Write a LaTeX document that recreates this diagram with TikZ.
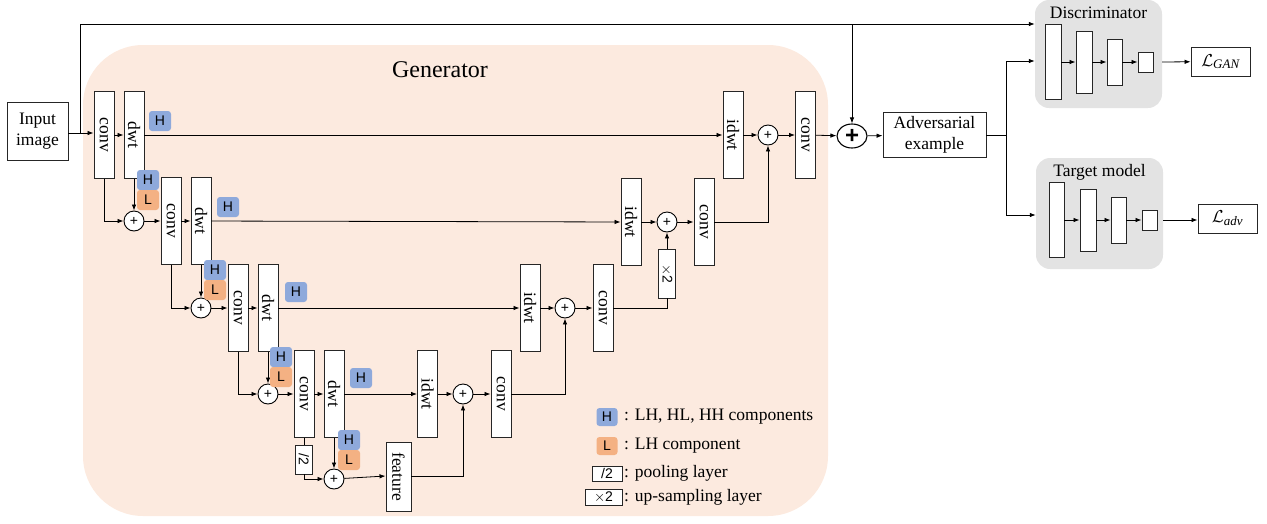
\documentclass[tikz,border=0pt]{standalone}
\usepackage{graphicx}
\usepackage{fontspec}
\setmainfont{Liberation Serif}
\newfontfamily\tagfont{Liberation Sans}
\usetikzlibrary{arrows.meta,shapes.geometric}

\definecolor{genbg}{RGB}{252,234,223}
\definecolor{hblue}{RGB}{142,169,219}
\definecolor{lorange}{RGB}{244,177,131}
\definecolor{panelgray}{RGB}{227,227,227}

\newcommand{\sidelabel}[1]{\rotatebox{-90}{#1}}
\newcommand{\losssub}[1]{\mbox{\fontsize{13}{13}\selectfont\itshape #1}}

\tikzset{
  txt/.style={font=\fontsize{17.5}{21}\selectfont},
  layer/.style={draw=black!85, fill=white, line width=0.9pt, minimum width=20pt,
    minimum height=87pt, inner sep=0pt, txt},
  plainbox/.style={draw=black!85, fill=white, line width=0.9pt, inner sep=0pt, txt, align=center},
  sum/.style={circle, draw=black, fill=white, line width=0.9pt, minimum size=20pt,
    inner sep=0pt, font=\tagfont\fontsize{14}{14}\selectfont},
  bigsum/.style={ellipse, draw=black, fill=white, line width=1.1pt, minimum width=30pt,
    minimum height=24pt, inner sep=0pt, font=\tagfont\bfseries\fontsize{24}{24}\selectfont},
  badge/.style={rounded corners=3pt, minimum width=22pt, minimum height=20pt,
    inner sep=0pt, font=\tagfont\fontsize{14}{14}\selectfont},
  hbadge/.style={badge, fill=hblue},
  lbadge/.style={badge, fill=lorange},
  smallbox/.style={draw=black!85, fill=white, line width=0.9pt, inner sep=0pt,
    font=\tagfont\fontsize{14}{14}\selectfont},
  panel/.style={fill=panelgray, rounded corners=14pt, inner sep=0pt},
  unit/.style={draw=black!85, fill=white, line width=0.9pt, inner sep=0pt},
  arr/.style={-{Latex[length=6pt,width=4.5pt]}, line width=0.8pt},
  ln/.style={line width=0.8pt},
  legendtxt/.style={anchor=west, inner sep=0pt, txt},
}

\begin{document}
\begin{tikzpicture}[x=1pt,y=-1pt]
\useasboundingbox (0,0) rectangle (1267,523);

% generator backdrop
\fill[genbg, rounded corners=60pt] (83,45) rectangle (828,516);
\node[font=\fontsize{24}{24}\selectfont] (gentitle) at (440,70) {Generator};

% input
\node[plainbox, minimum width=61pt, minimum height=58pt] (in) at (37.5,131) {Input\\image};
\coordinate (tap) at (80,133);

% encoder
\node[layer] (c1) at (104,135) {\sidelabel{conv}};
\node[layer] (d1) at (134,135) {\sidelabel{dwt}};
\node[sum] (p1) at (134,221) {+};
\node[layer] (c2) at (171,221) {\sidelabel{conv}};
\node[layer] (d2) at (201,221) {\sidelabel{dwt}};
\node[sum] (p2) at (201,308) {+};
\node[layer] (c3) at (238,308) {\sidelabel{conv}};
\node[layer] (d3) at (268,308) {\sidelabel{dwt}};
\node[sum] (p3) at (268,394) {+};
\node[layer] (c4) at (304,394) {\sidelabel{conv}};
\node[layer] (d4) at (334,394) {\sidelabel{dwt}};
\node[smallbox, minimum width=17pt, minimum height=29pt] (pool) at (304,459.5) {\sidelabel{/2}};
\node[sum] (p4) at (334,479) {+};
\node[plainbox, minimum width=25pt, minimum height=69pt] (feat) at (398.5,476.5) {\sidelabel{feature}};

% decoder
\node[layer] (i1) at (733,135) {\sidelabel{idwt}};
\node[sum] (s1) at (768,135) {+};
\node[layer] (e1) at (805.5,135) {\sidelabel{conv}};
\node[layer] (i2) at (631,222) {\sidelabel{idwt}};
\node[sum] (s2) at (667,222) {+};
\node[layer] (e2) at (704,222) {\sidelabel{conv}};
\node[smallbox, minimum width=17pt, minimum height=49pt] (up) at (667,273.5) {\sidelabel{$\times$2}};
\node[layer] (i3) at (530,308) {\sidelabel{idwt}};
\node[sum] (s3) at (565,308) {+};
\node[layer] (e3) at (603,308) {\sidelabel{conv}};
\node[layer] (i4) at (427.5,394) {\sidelabel{idwt}};
\node[sum] (s4) at (463,394) {+};
\node[layer] (e4) at (501,394) {\sidelabel{conv}};

% encoder connectors
\draw[arr] (in.east |- tap) -- (c1.west |- tap);
\draw[arr] (c1) -- (d1);
\draw[arr] (c1.south) |- (p1);
\draw[arr] (d1.south) -- (p1);
\draw[arr] (p1) -- (c2);
\draw[arr] (c2) -- (d2);
\draw[arr] (c2.south) |- (p2);
\draw[arr] (d2.south) -- (p2);
\draw[arr] (p2) -- (c3);
\draw[arr] (c3) -- (d3);
\draw[arr] (c3.south) |- (p3);
\draw[arr] (d3.south) -- (p3);
\draw[arr] (p3) -- (c4);
\draw[arr] (c4) -- (d4);
\draw[ln] (c4.south) -- (pool.north);
\draw[arr] (pool.south) |- (p4);
\draw[arr] (d4.south) -- (p4);
\draw[arr] (p4) -- (feat.west |- 0,476);

% skip connections
\draw[arr] (d1) -- (i1);
\draw[arr] (d2) -- (i2);
\draw[arr] (d3) -- (i3);
\draw[arr] (d4) -- (i4);

% decoder connectors
\draw[arr] (feat.east) -| (s4);
\draw[arr] (i4) -- (s4);
\draw[arr] (s4) -- (e4);
\draw[arr] (e4.east) -| (s3);
\draw[arr] (i3) -- (s3);
\draw[arr] (s3) -- (e3);
\draw[ln] (e3.east) -| (up.south);
\draw[arr] (up) -- (s2);
\draw[arr] (i2) -- (s2);
\draw[arr] (s2) -- (e2);
\draw[arr] (e2.east) -| (s1);
\draw[arr] (i1) -- (s1);
\draw[arr] (s1) -- (e1);

% wavelet component tags
\node[hbadge] (h1) at (160,121) {H};
\node[hbadge] (h2) at (228,207) {H};
\node[hbadge] (h3) at (296,292) {H};
\node[hbadge] (h4) at (361,378) {H};
\node[hbadge] (hh1) at (148,180) {H};
\node[lbadge] (ll1) at (148,200) {L};
\node[hbadge] (hh2) at (215,270) {H};
\node[lbadge] (ll2) at (215,290) {L};
\node[hbadge] (hh3) at (281,357) {H};
\node[lbadge] (ll3) at (281,377) {L};
\node[hbadge] (hh4) at (349,440) {H};
\node[lbadge] (ll4) at (349,460) {L};

% legend
\node[hbadge, minimum width=21pt, minimum height=18pt] (kh) at (607,417) {H};
\node[legendtxt] (khtxt) at (624,417) {: LH, HL, HH components};
\node[lbadge, minimum width=21pt, minimum height=18pt] (kl) at (607,446) {L};
\node[legendtxt] (kltxt) at (624,446) {: LH component};
\node[smallbox, minimum width=30pt, minimum height=15pt] (kp) at (607,473.5) {/2};
\node[legendtxt] (kptxt) at (624,473) {: pooling layer};
\node[smallbox, minimum width=37pt, minimum height=16pt] (ku) at (603.5,497) {$\times$2};
\node[legendtxt] (kutxt) at (624,497) {: up-sampling layer};

% perturbation added to the input
\node[bigsum] (add) at (852,136) {+};
\node[plainbox, minimum width=103pt, minimum height=45pt] (adv) at (934.5,135) {Adversarial\\example};
\coordinate (topL) at (80,24);
\coordinate (topM) at (852,24);
\coordinate (branch) at (1006,135);

% discriminator
\node[panel, minimum width=127pt, minimum height=108pt] (disc) at (1098.5,54) {};
\node[txt] (disctitle) at (1098.5,13) {Discriminator};
\node[unit, minimum width=16pt, minimum height=75pt] (db1) at (1053,62) {};
\node[unit, minimum width=16pt, minimum height=62pt] (db2) at (1084,62) {};
\node[unit, minimum width=15pt, minimum height=46pt] (db3) at (1114.5,62) {};
\node[unit, minimum width=15pt, minimum height=20pt] (db4) at (1145.5,62) {};
\draw[arr] (db1) -- (db2);
\draw[arr] (db2) -- (db3);
\draw[arr] (db3) -- (db4);
\node[plainbox, minimum width=59pt, minimum height=29pt] (lgan) at (1220.5,61.5) {$\mathcal{L}_{\losssub{GAN}}$};
\draw[arr] (disc.east |- db4) -- (lgan);

% target model
\node[panel, minimum width=127pt, minimum height=111pt] (tgt) at (1099.5,213.5) {};
\node[txt] (tgttitle) at (1099.5,172) {Target model};
\node[unit, minimum width=15pt, minimum height=75pt] (tb1) at (1056.5,220) {};
\node[unit, minimum width=16pt, minimum height=62pt] (tb2) at (1088,220) {};
\node[unit, minimum width=15pt, minimum height=46pt] (tb3) at (1118.5,220) {};
\node[unit, minimum width=15pt, minimum height=20pt] (tb4) at (1149.5,220) {};
\draw[arr] (tb1) -- (tb2);
\draw[arr] (tb2) -- (tb3);
\draw[arr] (tb3) -- (tb4);
\node[plainbox, minimum width=59pt, minimum height=29pt] (ladv) at (1227.5,218.5) {$\mathcal{L}_{\losssub{adv}}$};
\draw[arr] (tgt.east |- tb4) -- (ladv.west |- tb4);

% outer connectors
\draw[arr] (tap) -- (topL) -- (disc.west |- topL);
\draw[arr] (topM) -- (add);
\draw[arr] (e1) -- (add);
\draw[arr] (add) -- (adv);
\draw[ln] (adv.east) -- (branch);
\draw[arr] (branch) |- (disc.west |- 0,61);
\draw[arr] (branch) |- (tgt.west |- 0,215);
\end{tikzpicture}
\end{document}
